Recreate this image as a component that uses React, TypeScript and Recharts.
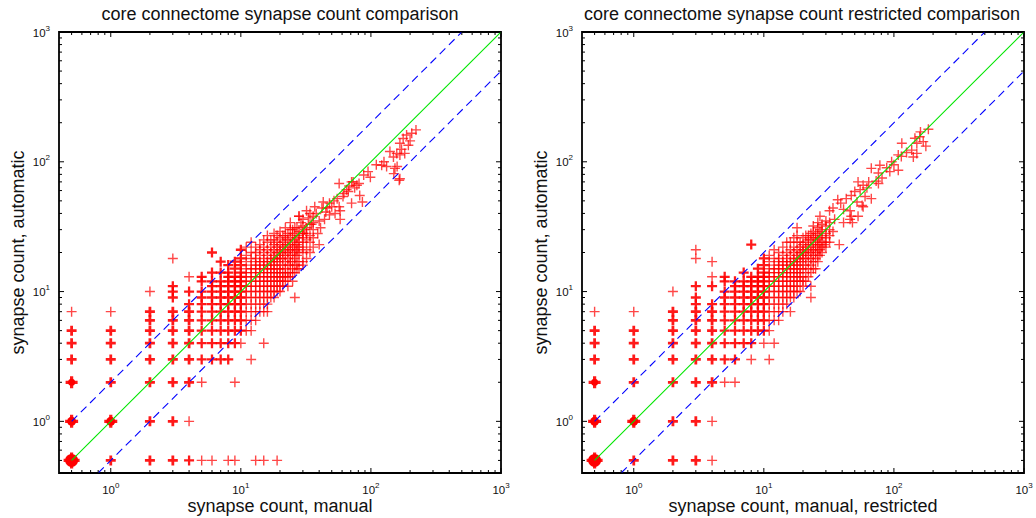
import React from "react";
import { ReferenceArea, Scatter, ScatterChart, XAxis, YAxis } from "recharts";

// [manual, automatic, how many edges sit on that spot]; zero counts are drawn at 0.5
const fullGrid: [number, number, number][] = [
  [0.5, 0.5, 60], [0.5, 1, 25], [0.5, 2, 14], [0.5, 3, 7], [0.5, 4, 5], [0.5, 5, 4], [0.5, 7, 1],
  [1, 0.5, 6], [1, 1, 18], [1, 2, 5], [1, 3, 4], [1, 4, 3], [1, 5, 3], [1, 7, 1],
  [2, 0.5, 5], [2, 1, 5], [2, 2, 5], [2, 3, 4], [2, 4, 4], [2, 5, 4], [2, 6, 3], [2, 7, 3], [2, 10, 1],
  [3, 0.5, 3], [3, 1, 5], [3, 2, 4], [3, 3, 4], [3, 4, 4], [3, 5, 4], [3, 6, 3], [3, 7, 3], [3, 9, 2], [3, 10, 2], [3, 11, 2], [3, 18, 1],
  [4, 0.5, 2], [4, 1, 1], [4, 2, 3], [4, 3, 3], [4, 4, 4], [4, 5, 4], [4, 6, 3], [4, 7, 3], [4, 8, 2], [4, 10, 2], [4, 13, 1],
  [5, 0.5, 1], [6, 0.5, 1], [8, 0.5, 1], [9, 0.5, 1], [13, 0.5, 1], [15, 0.5, 1], [19, 0.5, 1],
  [5, 2, 1], [9, 2, 1], [12, 3, 1], [10, 4, 1], [15, 4, 1], [26, 9, 1],
];

// denser part: manual count -> automatic counts seen in that column
const fullColumns: [number, number[]][] = [
  [5, [3, 4, 5, 6, 7, 8, 9, 10, 12, 13]],
  [6, [3, 4, 5, 6, 7, 8, 9, 10, 11, 12, 14, 20]],
  [7, [3, 4, 5, 6, 7, 8, 9, 10, 11, 12, 14, 17]],
  [8, [3, 4, 5, 6, 7, 8, 9, 10, 11, 12, 13, 14, 16]],
  [9, [4, 5, 6, 7, 8, 9, 10, 11, 12, 13, 15, 17]],
  [10, [5, 6, 7, 8, 9, 10, 11, 12, 13, 14, 16, 18, 21]],
  [11, [5, 6, 7, 8, 9, 10, 11, 12, 13, 14, 15, 17, 19, 22]],
  [12, [5, 6, 7, 8, 9, 10, 11, 12, 13, 14, 15, 16, 18, 20, 24]],
  [13, [6, 7, 8, 9, 10, 11, 12, 13, 14, 15, 16, 17, 18, 20, 22]],
  [14, [7, 8, 9, 10, 11, 12, 13, 14, 15, 16, 17, 19, 21, 23]],
  [15, [7, 8, 9, 10, 11, 12, 13, 14, 15, 16, 17, 18, 20, 22, 25]],
  [16, [7, 8, 9, 10, 11, 12, 13, 14, 15, 16, 17, 19, 21, 24, 27]],
  [17, [9, 10, 11, 12, 13, 14, 15, 16, 17, 18, 20, 22, 25]],
  [18, [9, 10, 11, 12, 13, 14, 15, 16, 17, 18, 19, 21, 23, 25, 28]],
  [19, [10, 11, 12, 13, 14, 15, 17, 18, 20, 22, 24, 27]],
  [20, [10, 11, 12, 13, 14, 15, 16, 18, 19, 20, 21, 23, 26, 29]],
  [21, [11, 12, 13, 14, 16, 18, 20, 22, 24, 27]],
  [22, [12, 13, 14, 15, 17, 19, 21, 23, 25, 27, 31]],
  [23, [11, 13, 14, 16, 18, 20, 22, 25, 28]],
  [24, [13, 14, 16, 17, 19, 21, 23, 26, 30, 34]],
  [25, [12, 14, 15, 17, 20, 22, 24, 28]],
  [26, [14, 16, 18, 19, 21, 23, 25, 27, 31]],
  [27, [15, 16, 19, 21, 23, 26, 31]],
  [28, [15, 17, 20, 22, 24, 27, 29, 38]],
  [30, [16, 17, 20, 22, 24, 26, 28, 32, 36]],
  [32, [18, 21, 25, 28, 31]],
  [34, [20, 24, 27, 33, 40]],
  [36, [22, 26, 30, 34]],
];

const fullUpper: [number, number][] = [
  [28, 38], [32, 42], [37, 45], [43, 49], [40, 35], [41, 31], [40, 23], [25, 30], [30, 28], [48, 39],
  [48, 48], [46, 44], [53, 40], [58, 42], [58, 36], [57, 45], [57, 68], [61, 54], [65, 61], [67, 59],
  [68, 65], [71, 70], [71, 48], [73, 70], [78, 66], [81, 68], [82, 55], [86, 49], [88, 79], [99, 76],
  [121, 94], [126, 100], [132, 92], [149, 109], [150, 81], [153, 89], [158, 116], [159, 92], [165, 72],
  [167, 74], [167, 113], [167, 139], [177, 151], [182, 116], [188, 161], [194, 134], [200, 145],
  [206, 166], [222, 176], [35, 33], [33, 37], [45, 41], [52, 50], [62, 57], [75, 63], [95, 84],
  [110, 95], [140, 120], [172, 125], [38, 40], [42, 44], [44, 36], [50, 45], [55, 52], [39, 28],
  [31, 30], [29, 34], [36, 38],
];

const restrictedGrid: [number, number, number][] = [
  [0.5, 0.5, 60], [0.5, 1, 25], [0.5, 2, 14], [0.5, 3, 7], [0.5, 4, 5], [0.5, 5, 4], [0.5, 7, 1],
  [1, 0.5, 5], [1, 1, 18], [1, 2, 5], [1, 3, 4], [1, 4, 3], [1, 5, 3], [1, 7, 1],
  [2, 0.5, 4], [2, 1, 4], [2, 2, 5], [2, 3, 4], [2, 4, 4], [2, 5, 4], [2, 6, 3], [2, 7, 3], [2, 10, 1],
  [3, 0.5, 3], [3, 1, 4], [3, 2, 4], [3, 3, 4], [3, 4, 4], [3, 5, 4], [3, 6, 3], [3, 7, 3], [3, 8, 2], [3, 9, 2], [3, 11, 2], [3, 18, 1], [3, 21, 1],
  [4, 0.5, 1], [4, 1, 1], [4, 2, 3], [4, 3, 3], [4, 4, 4], [4, 5, 4], [4, 6, 3], [4, 7, 3], [4, 8, 2], [4, 11, 2], [4, 13, 1], [4, 17, 1],
  [5, 2, 1], [6, 2, 1], [8, 3, 1], [11, 3, 1], [12, 4, 1], [10, 4, 1], [23, 9, 1],
];

const restrictedColumns: [number, number[]][] = [
  [5, [3, 4, 5, 6, 7, 8, 9, 10, 12, 13]],
  [6, [3, 4, 5, 6, 7, 8, 9, 10, 11, 12]],
  [7, [4, 5, 6, 7, 8, 9, 10, 11, 12, 14]],
  [8, [4, 5, 6, 7, 8, 9, 10, 11, 12, 13, 23]],
  [9, [5, 6, 7, 8, 9, 10, 11, 12, 13, 15]],
  [10, [5, 6, 7, 8, 9, 10, 11, 12, 13, 14, 16, 18]],
  [11, [5, 6, 7, 8, 9, 10, 11, 12, 13, 14, 15, 17, 19]],
  [12, [6, 7, 8, 9, 10, 11, 12, 13, 14, 15, 16, 18, 21]],
  [13, [6, 7, 8, 9, 10, 11, 12, 13, 14, 15, 16, 17, 18, 20]],
  [14, [7, 8, 9, 10, 11, 12, 13, 14, 15, 16, 17, 19, 22]],
  [15, [8, 9, 10, 11, 12, 13, 14, 15, 16, 17, 18, 20, 24]],
  [16, [7, 9, 10, 11, 12, 13, 14, 15, 16, 17, 19, 21, 24]],
  [17, [9, 10, 11, 12, 13, 14, 15, 16, 17, 18, 20, 22, 26]],
  [18, [10, 11, 12, 13, 14, 15, 16, 17, 18, 19, 21, 24, 27, 31]],
  [19, [10, 12, 13, 14, 15, 17, 18, 20, 22, 24]],
  [20, [11, 12, 13, 15, 16, 18, 19, 20, 21, 23, 26]],
  [21, [12, 14, 16, 18, 20, 22, 24, 27]],
  [22, [13, 15, 17, 19, 21, 23, 25, 27]],
  [23, [11, 14, 16, 18, 20, 22, 25, 28]],
  [24, [15, 17, 19, 21, 23, 26, 29]],
  [25, [15, 18, 20, 22, 24, 26, 28]],
  [26, [17, 19, 21, 23, 25, 27, 31]],
  [27, [19, 21, 23, 26, 30]],
  [28, [20, 22, 24, 27, 29, 33]],
  [30, [22, 24, 26, 28, 32]],
  [32, [24, 27, 30, 34]],
];

const restrictedUpper: [number, number][] = [
  [184, 178], [158, 156], [145, 152], [168, 143], [115, 139], [150, 139], [137, 123], [176, 132],
  [108, 113], [114, 110], [141, 109], [150, 116], [96, 100], [100, 95], [108, 86], [93, 84], [78, 94],
  [67, 89], [76, 82], [81, 75], [73, 71], [76, 68], [64, 70], [53, 70], [58, 66], [55, 61], [50, 59],
  [47, 55], [60, 54], [67, 52], [52, 49], [43, 52], [37, 51], [39, 48], [32, 42], [34, 44], [41, 43],
  [46, 42], [57, 46], [58, 45], [47, 38], [53, 38], [46, 36], [27, 38], [26, 34], [30, 35], [35, 36],
  [41, 34], [48, 34], [24, 32], [34, 29], [38, 23], [29, 23], [125, 118], [160, 170], [88, 90], [62, 63],
];

const majorTicks = [1, 10, 100, 1000];
const allTicks = [
  0.5, 0.6, 0.7, 0.8, 0.9, 1, 2, 3, 4, 5, 6, 7, 8, 9, 10, 20, 30, 40, 50, 60, 70, 80, 90,
  100, 200, 300, 400, 500, 600, 700, 800, 900, 1000,
];

// y = x and the factor-of-two band
const unityLine = [{ x: 0.5, y: 0.5 }, { x: 1000, y: 1000 }];
const upperBand = [{ x: 0.5, y: 1 }, { x: 500, y: 1000 }];
const lowerBand = [{ x: 0.8, y: 0.4 }, { x: 1000, y: 500 }];

const PLOT_W = 442;
const PLOT_H = 441;
const FONT = '"Liberation Sans", Arial, Helvetica, sans-serif';

type Pt = { x: number; y: number; n: number };

function toPoints(grid: [number, number, number][], columns: [number, number[]][], upper: [number, number][]) {
  const pts: Pt[] = grid.map(([x, y, n]) => ({ x, y, n }));
  columns.forEach(([x, ys]) => ys.forEach((y) => pts.push({ x, y, n: x <= 10 ? 2 : 1 })));
  upper.forEach(([x, y]) => pts.push({ x, y, n: 1 }));
  return pts;
}

function PlusMark(props: any) {
  const { cx, cy, payload } = props;
  if (cx == null || cy == null) return null;
  const n = payload?.n ?? 1;
  const arm = n >= 40 ? 8 : n >= 15 ? 6.5 : n >= 10 ? 6 : 5;
  const sw = n >= 10 ? 3.2 : n >= 3 ? 2.8 : n === 2 ? 2.3 : 1.4;
  const r = n >= 40 ? 6.5 : n >= 15 ? 4.5 : n >= 10 ? 3.5 : 0;
  return (
    <g>
      {r > 0 ? <circle cx={cx} cy={cy} r={r} fill="#ff0000" /> : null}
      <path
        d={`M${cx - arm},${cy}H${cx + arm}M${cx},${cy - arm}V${cy + arm}`}
        stroke="#ff0000"
        strokeOpacity={n >= 2 ? 0.9 : 0.72}
        strokeWidth={sw}
        fill="none"
      />
    </g>
  );
}

const NoMark = () => <g />;

function Power({ value }: { value: number }) {
  return (
    <>
      10
      <tspan dy={-6} fontSize={8}>
        {Math.round(Math.log10(value))}
      </tspan>
    </>
  );
}

function XTick(props: any) {
  const { x, y, payload } = props;
  const major = majorTicks.includes(payload.value);
  const len = major ? 5 : 3;
  return (
    <g>
      <line x1={x} x2={x} y1={y} y2={y - len} stroke="#000" />
      <line x1={x} x2={x} y1={y - PLOT_H} y2={y - PLOT_H + len} stroke="#000" />
      {major ? (
        <text x={x} y={y + 21} textAnchor="middle" fontSize={11.5} fill="#111" fontFamily={FONT}>
          <Power value={payload.value} />
        </text>
      ) : null}
    </g>
  );
}

function YTick(props: any) {
  const { x, y, payload } = props;
  const major = majorTicks.includes(payload.value);
  const len = major ? 5 : 3;
  return (
    <g>
      <line x1={x} x2={x + len} y1={y} y2={y} stroke="#000" />
      <line x1={x + PLOT_W} x2={x + PLOT_W - len} y1={y} y2={y} stroke="#000" />
      {major ? (
        <text x={x - 9} y={y + 4.5} textAnchor="end" fontSize={11.5} fill="#111" fontFamily={FONT}>
          <Power value={payload.value} />
        </text>
      ) : null}
    </g>
  );
}

interface PanelProps {
  points: Pt[];
  yWidth: number;
  right: number;
}

function Panel({ points, yWidth, right }: PanelProps) {
  return (
    <ScatterChart width={518} height={518} margin={{ top: 32, right, bottom: 0, left: 0 }}>
      <XAxis
        type="number"
        dataKey="x"
        scale="log"
        domain={[0.4, 1000]}
        allowDataOverflow
        ticks={allTicks}
        interval={0}
        tickSize={0}
        tickMargin={0}
        axisLine={false}
        tickLine={false}
        height={45}
        tick={(p: any) => <XTick {...p} />}
      />
      <YAxis
        type="number"
        dataKey="y"
        scale="log"
        domain={[0.4, 1000]}
        allowDataOverflow
        ticks={allTicks}
        interval={0}
        tickSize={0}
        tickMargin={0}
        axisLine={false}
        tickLine={false}
        width={yWidth}
        tick={(p: any) => <YTick {...p} />}
      />
      <Scatter data={points} shape={PlusMark} isAnimationActive={false} />
      <Scatter data={unityLine} shape={NoMark} line={{ stroke: "#00e600", strokeWidth: 1.1 }} isAnimationActive={false} />
      <Scatter data={upperBand} shape={NoMark} line={{ stroke: "#0000ff", strokeWidth: 1.1, strokeDasharray: "8 5" }} isAnimationActive={false} />
      <Scatter data={lowerBand} shape={NoMark} line={{ stroke: "#0000ff", strokeWidth: 1.1, strokeDasharray: "8 5" }} isAnimationActive={false} />
      <ReferenceArea x1={0.4} x2={1000} y1={0.4} y2={1000} fill="none" fillOpacity={0} stroke="#000" strokeWidth={1.8} ifOverflow="visible" />
    </ScatterChart>
  );
}

export default function App() {
  const fullPoints = toPoints(fullGrid, fullColumns, fullUpper);
  const restrictedPoints = toPoints(restrictedGrid, restrictedColumns, restrictedUpper);
  return (
    <div style={{ position: "absolute", left: 0, top: 0, width: 1036, height: 518, background: "#fff", fontFamily: FONT }}>
      <div style={{ position: "absolute", left: 0, top: 0 }}>
        <Panel points={fullPoints} yWidth={59} right={17} />
      </div>
      <div style={{ position: "absolute", left: 518, top: 0 }}>
        <Panel points={restrictedPoints} yWidth={64} right={12} />
      </div>
      <svg width={1036} height={518} style={{ position: "absolute", left: 0, top: 0, pointerEvents: "none" }}>
        <g fontFamily={FONT} fontSize={18} fill="#111" textAnchor="middle">
          <text x={280} y={20}>core connectome synapse count comparison</text>
          <text x={280} y={512}>synapse count, manual</text>
          <text transform="translate(24,252.5) rotate(-90)">synapse count, automatic</text>
          <text x={802} y={20}>core connectome synapse count restricted comparison</text>
          <text x={803} y={512}>synapse count, manual, restricted</text>
          <text transform="translate(547,252.5) rotate(-90)">synapse count, automatic</text>
        </g>
      </svg>
    </div>
  );
}
